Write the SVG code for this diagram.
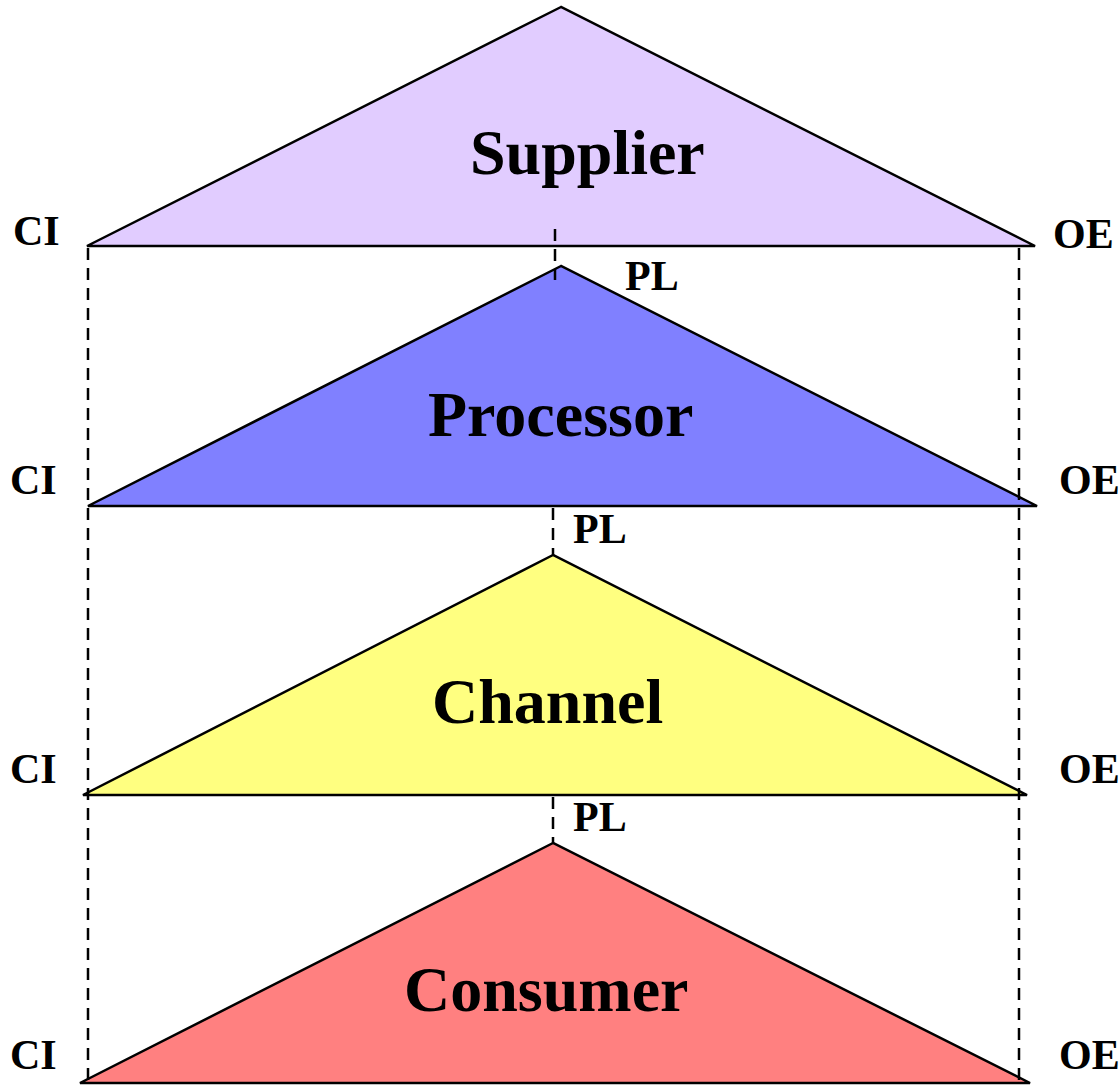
<svg xmlns="http://www.w3.org/2000/svg" width="1119" height="1085" viewBox="0 0 1119 1085">
<style>
.tri{stroke:#000;stroke-width:2.5;stroke-linejoin:miter}
.dash{stroke:#000;stroke-width:2.5;stroke-dasharray:12,8;fill:none}
.big{font-family:"Liberation Serif",serif;font-weight:bold;font-size:64px;fill:#000}
.lab{font-family:"Liberation Serif",serif;font-weight:bold;font-size:42px;fill:#000}
</style>
<rect width="1119" height="1085" fill="#fff"/>
<g id="supplier">
<polygon class="tri" points="561,7 87,246 1035,246" fill="#E1CCFF"/>
<text class="big" x="470" y="174">Supplier</text>
<text class="lab" x="13" y="245">CI</text>
<text class="lab" x="1053" y="248">OE</text>
</g>
<g id="processor">
<polygon class="tri" points="561,266 88,506 1037,506" fill="#8080FF"/>
<text class="big" x="428" y="436">Processor</text>
<text class="lab" x="625" y="290">PL</text>
<text class="lab" x="10" y="494">CI</text>
<text class="lab" x="1059" y="494">OE</text>
</g>
<g id="channel">
<polygon class="tri" points="553,555 83,795 1027,795" fill="#FFFF80"/>
<text class="big" x="432" y="723">Channel</text>
<text class="lab" x="573" y="543">PL</text>
<text class="lab" x="10" y="783">CI</text>
<text class="lab" x="1059" y="783">OE</text>
</g>
<g id="consumer">
<polygon class="tri" points="553,843 80,1083 1030,1083" fill="#FF8080"/>
<text class="big" x="404" y="1011">Consumer</text>
<text class="lab" x="573" y="831">PL</text>
<text class="lab" x="10" y="1069">CI</text>
<text class="lab" x="1059" y="1069">OE</text>
</g>
<g id="connectors">
<line class="dash" x1="88" y1="248" x2="88" y2="1082"/>
<line class="dash" x1="1019" y1="248" x2="1019" y2="1082"/>
<line class="dash" x1="555" y1="229" x2="555" y2="280"/>
<line class="dash" x1="553" y1="508" x2="553" y2="555"/>
<line class="dash" x1="553" y1="797" x2="553" y2="843"/>
</g>
</svg>
